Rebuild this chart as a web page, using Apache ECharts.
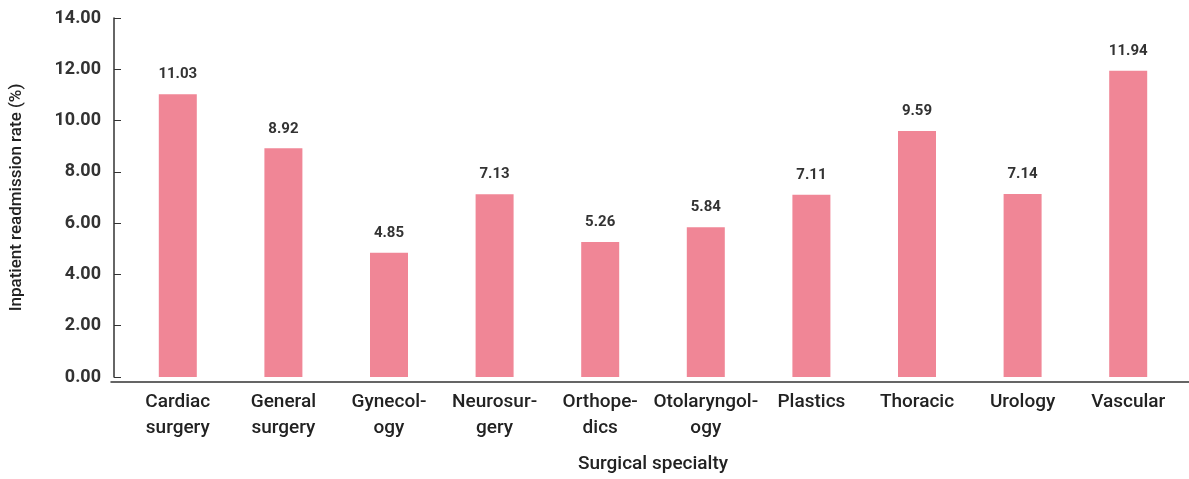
<!DOCTYPE html>
<html>
<head>
<meta charset="utf-8">
<script src="https://cdn.jsdelivr.net/npm/echarts@6/dist/echarts.min.js"></script>
<style>
html, body { margin: 0; padding: 0; background: #fff; }
#chart { width: 1189px; height: 479px; }
</style>
</head>
<body>
<div id="chart"></div>
<script>
// data
var specialties = ['Cardiac\nsurgery', 'General\nsurgery', 'Gynecol-\nogy', 'Neurosur-\ngery', 'Orthope-\ndics',
    'Otolaryngol-\nogy', 'Plastics', 'Thoracic', 'Urology', 'Vascular'];
var readmissionRate = [11.03, 8.92, 4.85, 7.13, 5.26, 5.84, 7.11, 9.59, 7.14, 11.94];
var yTicks = { min: 0, max: 14, interval: 2 };

var fontFam = 'Roboto, "Noto Sans", sans-serif';
var chart = echarts.init(document.getElementById('chart'));
var option = {
    animation: false,
    grid: [
        { left: 122, right: 8, top: 18, bottom: 97 },
        // second grid only to draw the full-width base line
        { left: 111, right: 0, top: 18, bottom: 97 }
    ],
    xAxis: [{
        type: 'category',
        data: specialties,
        name: 'Surgical specialty',
        nameLocation: 'middle',
        nameGap: 78,
        nameTextStyle: { fontFamily: fontFam, fontSize: 19, fontWeight: 500, color: '#222' },
        axisLine: { show: false },
        axisTick: { show: false },
        axisLabel: { fontFamily: fontFam, fontSize: 19, fontWeight: 500, color: '#222', lineHeight: 26, margin: 12, interval: 0 }
    }, {
        gridIndex: 1,
        type: 'value',
        min: 0, max: 1,
        axisLine: { show: true, lineStyle: { color: '#333', width: 1.5 } },
        axisTick: { show: false },
        axisLabel: { show: false },
        splitLine: { show: false }
    }],
    yAxis: [{
        type: 'value',
        min: yTicks.min, max: yTicks.max, interval: yTicks.interval,
        offset: 11,
        name: 'Inpatient readmission rate (%)',
        nameLocation: 'middle',
        nameGap: 89,
        nameTextStyle: { fontFamily: fontFam, fontSize: 17, fontWeight: 500, color: '#222' },
        axisLine: { show: true, lineStyle: { color: '#333', width: 1.5 } },
        axisTick: { show: true, inside: true, length: 7, lineStyle: { color: '#333' } },
        splitLine: { show: false },
        axisLabel: {
            fontFamily: fontFam, fontSize: 18, fontWeight: 'bold', color: '#333', margin: 13,
            formatter: function (v) { return v.toFixed(2); }
        }
    }, {
        gridIndex: 1,
        type: 'value',
        show: false
    }],
    series: [{
        type: 'bar',
        data: readmissionRate,
        barWidth: 38,
        itemStyle: { color: '#f08696' },
        label: {
            show: true, position: 'top', distance: 12,
            fontFamily: fontFam, fontSize: 15, fontWeight: 'bold', color: '#333',
            formatter: function (p) { return p.value.toFixed(2); }
        }
    }]
};
chart.setOption(option);
</script>
</body>
</html>
